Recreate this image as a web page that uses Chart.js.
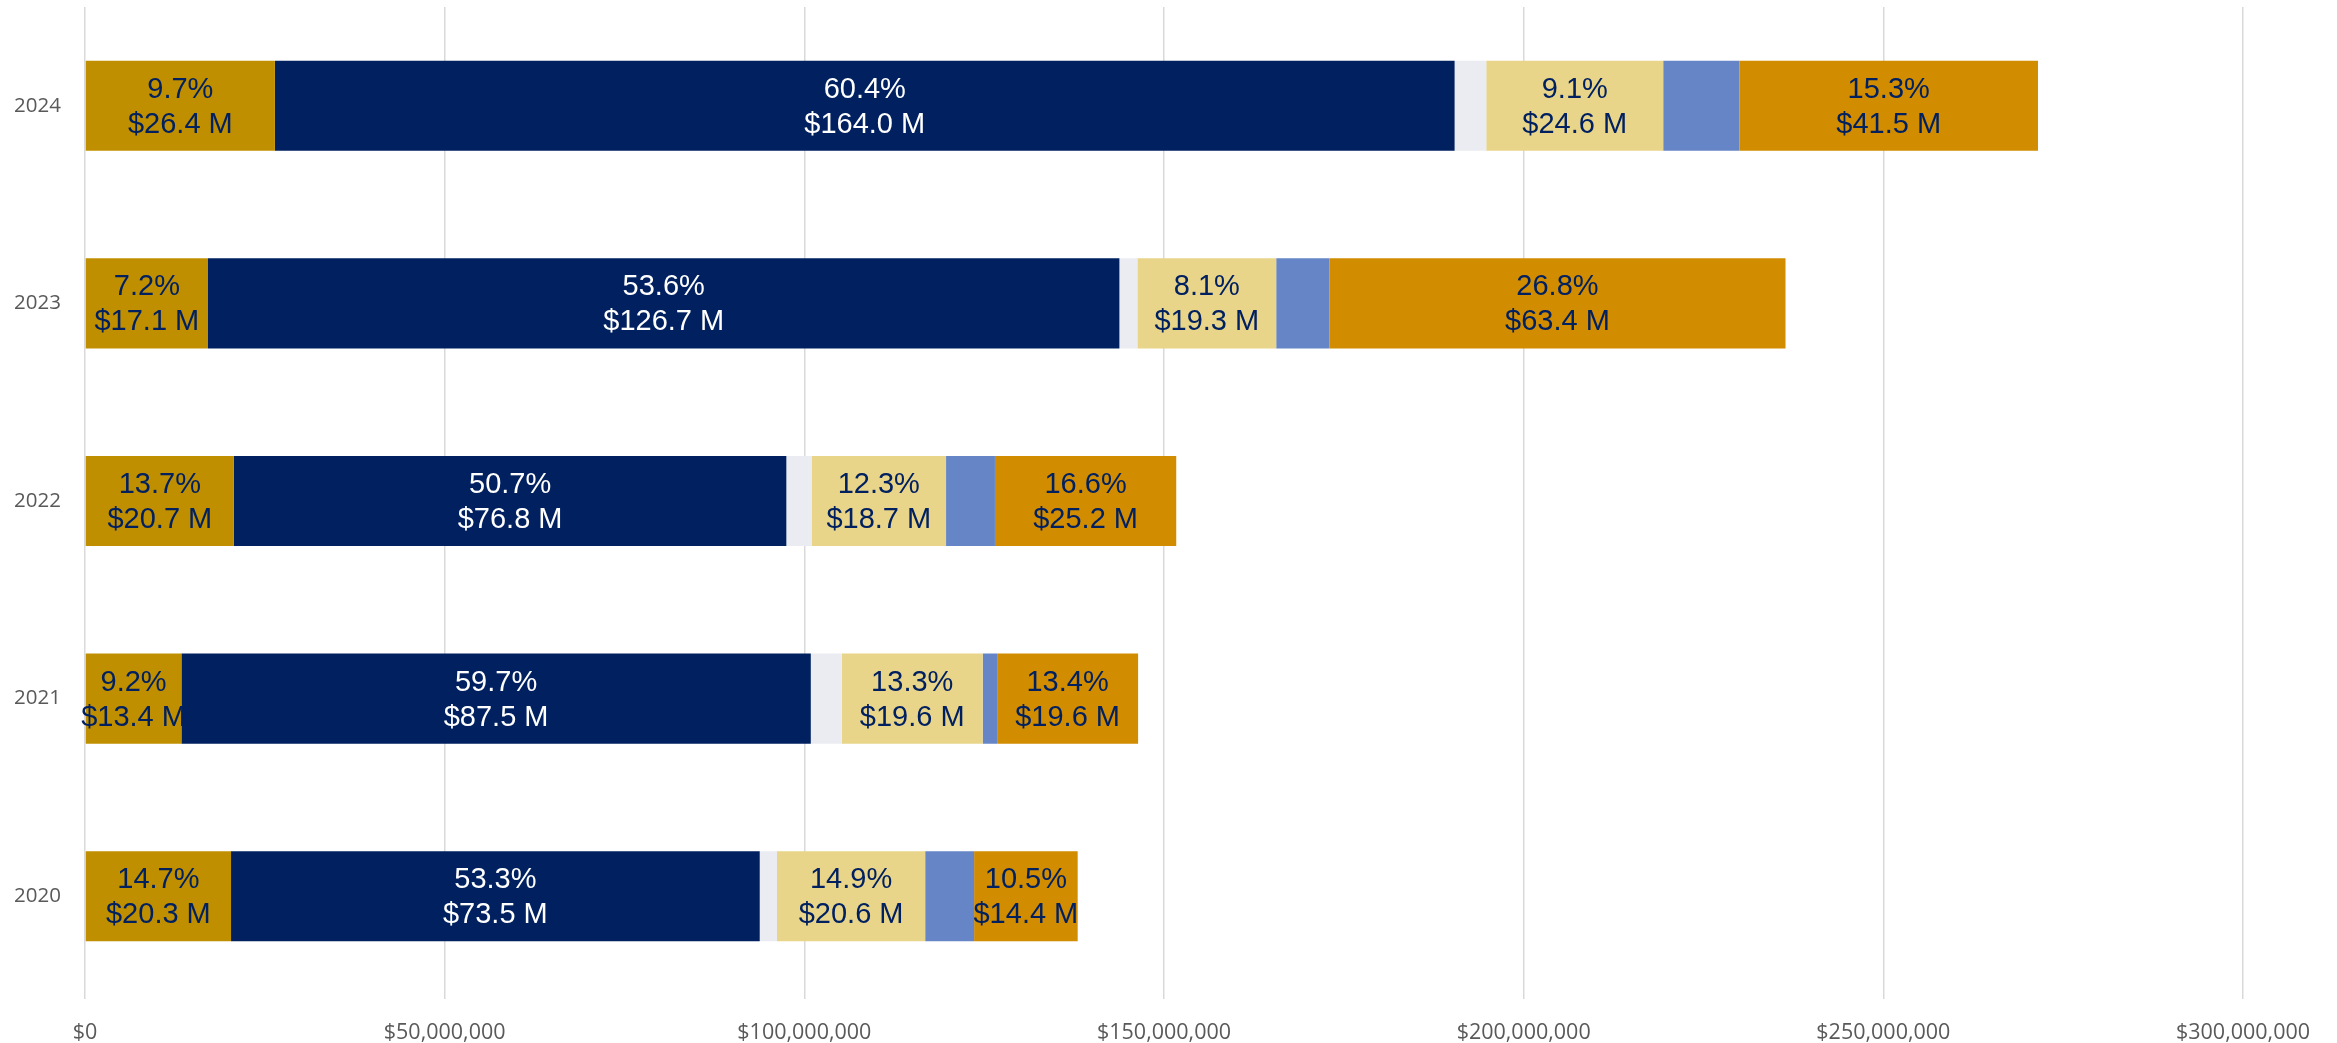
<!DOCTYPE html>
<html>
<head>
<meta charset="utf-8">
<script src="https://cdn.jsdelivr.net/npm/chart.js@4/dist/chart.umd.min.js"></script>
<style>
  html, body { margin: 0; padding: 0; background: #fff; }
  #wrap { width: 2337px; height: 1043px; }
</style>
</head>
<body>
<div id="wrap"><canvas id="grafico"></canvas></div>
<script>
// anos (de cima para baixo)
const anos = ['2024', '2023', '2022', '2021', '2020'];

// valores em milhões de dólares
const valoresOuro = [26.4, 17.1, 20.7, 13.4, 20.3];
const valoresAzulEscuro = [164.0, 126.7, 76.8, 87.5, 73.5];
const valoresCinza = [4.4, 2.5, 3.5, 4.3, 2.4];
const valoresAmarelo = [24.6, 19.3, 18.7, 19.6, 20.6];
const valoresAzulClaro = [10.6, 7.4, 6.8, 2.0, 6.8];
const valoresLaranja = [41.5, 63.4, 25.2, 19.6, 14.4];

// percentuais mostrados nos rótulos
const pctOuro = [9.7, 7.2, 13.7, 9.2, 14.7];
const pctAzulEscuro = [60.4, 53.6, 50.7, 59.7, 53.3];
const pctAmarelo = [9.1, 8.1, 12.3, 13.3, 14.9];
const pctLaranja = [15.3, 26.8, 16.6, 13.4, 10.5];

// ticks do eixo x (milhões)
const ticksX = [0, 50, 100, 150, 200, 250, 300];

const corTexto = '#002060';

const datasets = [
    { label: 'Ouro', data: valoresOuro, backgroundColor: '#BF8F00', pct: pctOuro, corRotulo: corTexto },
    { label: 'Azul escuro', data: valoresAzulEscuro, backgroundColor: '#002060', pct: pctAzulEscuro, corRotulo: '#ffffff' },
    { label: 'Cinza', data: valoresCinza, backgroundColor: '#EBECF1' },
    { label: 'Amarelo', data: valoresAmarelo, backgroundColor: '#E8D58A', pct: pctAmarelo, corRotulo: corTexto },
    { label: 'Azul claro', data: valoresAzulClaro, backgroundColor: '#6585C7' },
    { label: 'Laranja', data: valoresLaranja, backgroundColor: '#D18C00', pct: pctLaranja, corRotulo: corTexto }
];

// desenha "xx.x%" e "$xx.x M" no centro de cada segmento
const rotulos = {
    id: 'rotulos',
    afterDatasetsDraw(chart) {
        const ctx = chart.ctx;
        ctx.save();
        ctx.font = '29px "Liberation Sans", Arial, sans-serif';
        ctx.textAlign = 'center';
        ctx.textBaseline = 'middle';
        chart.data.datasets.forEach((ds, i) => {
            if (!ds.pct) return;
            const meta = chart.getDatasetMeta(i);
            meta.data.forEach((bar, j) => {
                const cx = (bar.x + bar.base) / 2;
                ctx.fillStyle = ds.corRotulo;
                ctx.fillText(ds.pct[j].toFixed(1) + '%', cx, bar.y - 16);
                ctx.fillText('$' + ds.data[j].toFixed(1) + ' M', cx, bar.y + 19);
            });
        });
        ctx.restore();
    }
};

new Chart(document.getElementById('grafico'), {
    type: 'bar',
    data: { labels: anos, datasets: datasets },
    options: {
        indexAxis: 'y',
        responsive: true,
        maintainAspectRatio: false,
        animation: false,
        layout: { padding: { top: 7, right: 94, left: 0, bottom: 0 } },
        datasets: {
            bar: { barPercentage: 0.456, categoryPercentage: 1, borderWidth: 0 }
        },
        plugins: {
            legend: { display: false },
            tooltip: { enabled: false }
        },
        scales: {
            x: {
                stacked: true,
                min: 0,
                max: 300,
                afterBuildTicks: function(scale) {
                    scale.ticks = ticksX.map(v => ({ value: v }));
                },
                afterFit: function(scale) {
                    scale.height = 48;
                    scale.paddingLeft = 0;
                    scale.paddingRight = 0;
                },
                grid: { color: '#D9D9D9', lineWidth: 1.5, tickLength: 4, drawTicks: true },
                border: { display: false },
                ticks: {
                    padding: 21,
                    color: '#595959',
                    font: { family: '"Open Sans"', size: 21.5 },
                    callback: function(value) {
                        return '$' + (value * 1000000).toLocaleString('en-US');
                    }
                }
            },
            y: {
                stacked: true,
                afterFit: function(scale) {
                    scale.width = 85;
                    scale.paddingTop = 0;
                    scale.paddingBottom = 0;
                },
                grid: { display: false },
                border: { display: false },
                ticks: {
                    padding: 16,
                    color: '#595959',
                    font: { family: '"Open Sans"', size: 20.5 }
                }
            }
        }
    },
    plugins: [rotulos]
});
</script>
</body>
</html>
